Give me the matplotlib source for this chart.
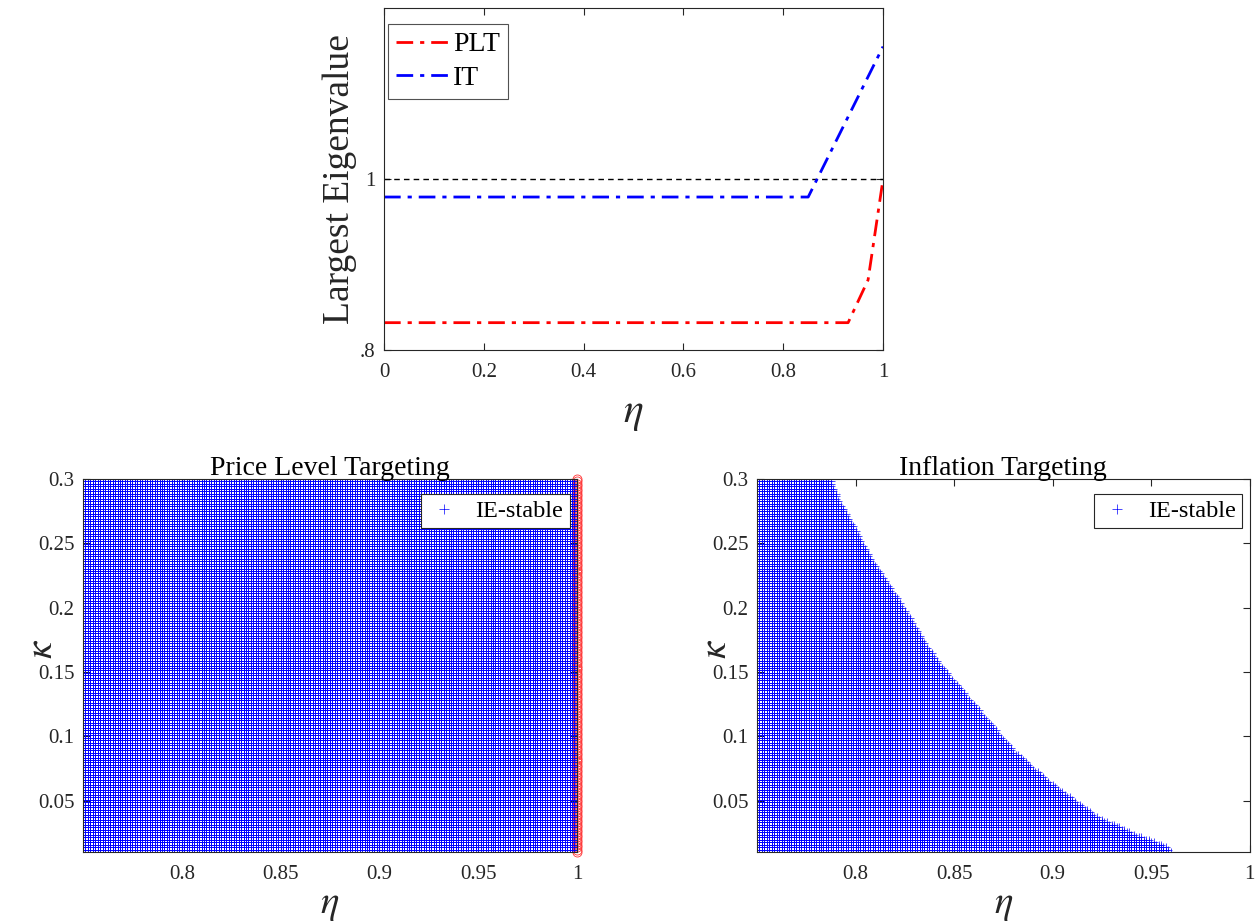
import numpy as np
import matplotlib
matplotlib.use("Agg")
from matplotlib import pyplot as plt

plt.rcParams['font.family'] = ['Liberation Serif', 'DejaVu Serif']
plt.rcParams['mathtext.fontset'] = 'stix'

# largest eigenvalue vs eta
eta_plt = [0.0, 0.93, 0.97, 1.0]
eig_plt = [0.832, 0.832, 0.882, 1.0]
eta_it = [0.0, 0.85, 1.0]
eig_it = [0.979, 0.979, 1.155]

# parameter grid for the stability regions
eta_grid = np.linspace(0.75, 1.0, 201)
kappa_grid = np.linspace(0.01, 0.3, 151)

# IT: largest stable eta for a given kappa
it_kappa = [0.01, 0.015, 0.025, 0.038, 0.064, 0.088, 0.156, 0.179, 0.205, 0.231, 0.26, 0.283, 0.3]
it_eta_max = [0.961, 0.957, 0.940, 0.922, 0.8985, 0.8807, 0.8426, 0.8325, 0.8223, 0.8105, 0.800, 0.7915, 0.787]

axcol = (0.15, 0.15, 0.15)
tick_fs = 15

def style_axes(ax):
    for s in ax.spines.values():
        s.set_color(axcol)
        s.set_linewidth(0.8)
    ax.tick_params(direction='in', top=True, right=True, colors=axcol,
                   labelsize=tick_fs, length=5, width=0.8)
    ax.tick_params(axis='x', pad=9)
    ax.tick_params(axis='y', pad=6)

fig = plt.figure(figsize=(12.57, 9.24), dpi=100)

# top panel
ax1 = fig.add_axes([0.3055, 0.6212, 0.397, 0.370])
ax1.plot([0, 1], [1, 1], '--', color='k', lw=1.0, dashes=(4, 3))
ax1.plot(eta_plt, eig_plt, '-.', color='r', lw=2.0, dashes=(6, 2.5, 1.5, 2.5), label='PLT')
ax1.plot(eta_it, eig_it, '-.', color='b', lw=2.0, dashes=(6, 2.5, 1.5, 2.5), label='IT')
ax1.set_xlim(0, 1)
ax1.set_ylim(0.8, 1.2)
ax1.set_xticks([0, 0.2, 0.4, 0.6, 0.8, 1])
ax1.set_xticklabels(['0', '0.2', '0.4', '0.6', '0.8', '1'])
ax1.set_yticks([0.8, 1.0])
ax1.set_yticklabels(['.8', '1'])
style_axes(ax1)
ax1.set_xlabel(r'$\eta$', fontsize=30, color=axcol, labelpad=9)
ax1.set_ylabel('Largest Eigenvalue', fontsize=27, color=axcol)
ax1.yaxis.set_label_coords(-0.055, 0.5)
leg = ax1.legend(loc='upper left', bbox_to_anchor=(0.008, 0.955), fontsize=20,
                 frameon=True, fancybox=False, edgecolor=axcol, handlelength=1.85,
                 handletextpad=0.2, borderpad=0.3, labelspacing=0.3, borderaxespad=0)
leg.get_frame().set_linewidth(0.8)

E, K = np.meshgrid(eta_grid, kappa_grid)

# bottom left: price level targeting, stable everywhere
ax2 = fig.add_axes([0.066, 0.0779, 0.393, 0.4037])
ax2.plot(np.ones_like(kappa_grid), kappa_grid, 'o', color=(1, 0.2, 0.2), ms=6.5, mew=0.6,
         mfc='none', clip_on=False, zorder=1)
ax2.plot(E.ravel(), K.ravel(), '+', color='b', ms=6, mew=0.5, ls='none',
         label='IE-stable', zorder=2)

# bottom right: inflation targeting, stable left of the boundary
bound = np.interp(kappa_grid, it_kappa, it_eta_max)
mask = E <= bound[:, None]
ax3 = fig.add_axes([0.6022, 0.0779, 0.392, 0.4037])
ax3.plot(E[mask], K[mask], '+', color='b', ms=6, mew=0.5, ls='none', label='IE-stable')

for ax, title in [(ax2, 'Price Level Targeting'), (ax3, 'Inflation Targeting')]:
    ax.set_xlim(0.75, 1.0)
    ax.set_ylim(0.01, 0.3)
    ax.set_xticks([0.8, 0.85, 0.9, 0.95, 1.0])
    ax.set_xticklabels(['0.8', '0.85', '0.9', '0.95', '1'])
    ax.set_yticks([0.05, 0.1, 0.15, 0.2, 0.25, 0.3])
    ax.set_yticklabels(['0.05', '0.1', '0.15', '0.2', '0.25', '0.3'])
    style_axes(ax)
    ax.set_title(title, fontsize=20, color='k', pad=3)
    ax.set_xlabel(r'$\eta$', fontsize=28, color=axcol, labelpad=2)
    ax.set_ylabel(r'$\kappa$', fontsize=28, color=axcol)
    ax.yaxis.set_label_coords(-0.045, 0.545)
    lg = ax.legend(loc='upper right', bbox_to_anchor=(0.985, 0.96), fontsize=17.5,
                   frameon=True, fancybox=False, edgecolor=axcol, framealpha=1,
                   handlelength=1.4, handletextpad=0.6, borderpad=0.25, borderaxespad=0,
                   markerscale=1.1)
    lg.get_frame().set_linewidth(0.8)

fig.savefig('out.png', dpi=100)
